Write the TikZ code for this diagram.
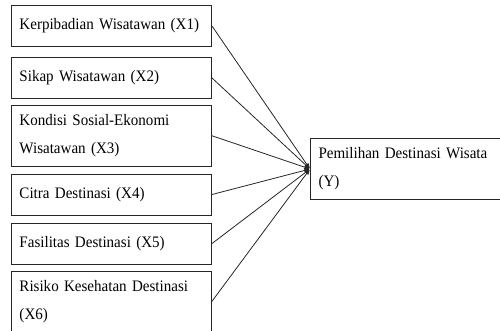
\documentclass[tikz,border=0pt]{standalone}
\usepackage{fontspec}
\setmainfont{Liberation Serif}[FakeStretch=0.94,WordSpace=0.8]
\usetikzlibrary{arrows,positioning}

\begin{document}
\begin{tikzpicture}[->,>=stealth',shorten >=1pt,x=1pt,y=1pt,node distance=7pt,
  var/.style={draw=black!85,line width=1pt,rectangle,text width=184pt,align=left,
    inner xsep=8pt,inner ysep=9pt,minimum height=41pt,font=\fontsize{16}{28}\selectfont}]
\useasboundingbox (0,0) rectangle (500,-330);
\node[var,anchor=north west] (x1) at (11,-5) {Kerpibadian Wisatawan (X1)};
\node[var] [below=10pt of x1] (x2) {Sikap Wisatawan (X2)};
\node[var] [below=6pt of x2] (x3) {Kondisi Sosial-Ekonomi\\Wisatawan (X3)};
\node[var] [below=7pt of x3] (x4) {Citra Destinasi (X4)};
\node[var] [below=7pt of x4] (x5) {Fasilitas Destinasi (X5)};
\node[var] [below=6pt of x5] (x6) {Risiko Kesehatan Destinasi\\(X6)};
\node[var,anchor=west,text width=190pt] (y) at (310,-169) {Pemilihan Destinasi Wisata\\(Y)};
\foreach \i in {1,...,6}
  \draw[black!85,line width=0.8pt] (x\i.east) -- (y.west);
\end{tikzpicture}
\end{document}
